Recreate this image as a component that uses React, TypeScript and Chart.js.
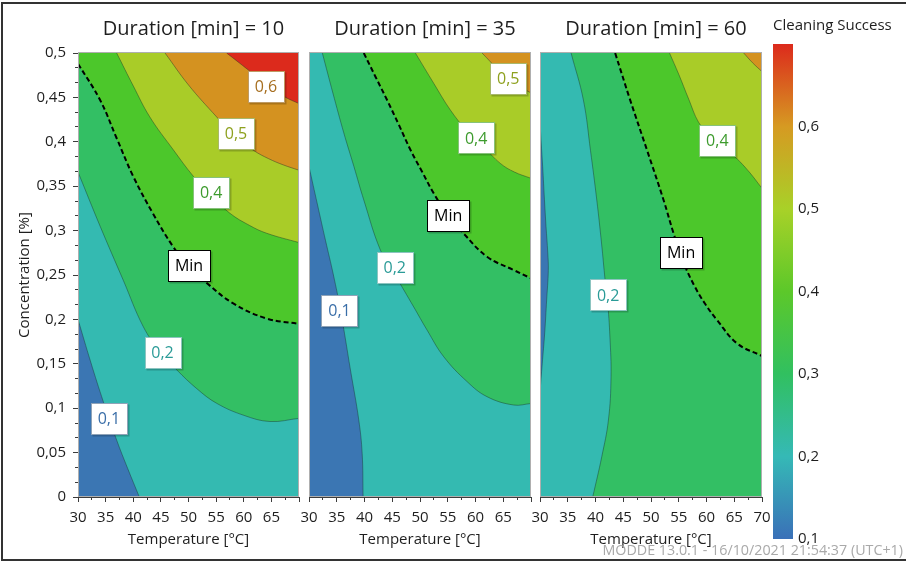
import React, { useEffect, useRef } from 'react';
import { Chart, registerables } from 'chart.js';

Chart.register(...registerables);

type Pt = [number, number];
type LabelItem = [number, number, number];

const FONT = '"Open Sans", "Noto Sans", "DejaVu Sans", sans-serif';
const TEXT = '#1e1e1e';
const AXIS = '#3c3c3c';
const CURVE_TENSION = 0.4;

// ---- axis ranges / ticks ----
const T_MIN = 30;
const T_MAX = 70;
const C_MIN = 0;
const C_MAX = 0.5;
const temperatureStep = 5;
const temperatureMinorStep = 2.5;
const concentrationStep = 0.05;
const concentrationMinorStep = 0.05 / 3;

const durations = [10, 35, 60];
const contourLevels = [0.1, 0.2, 0.3, 0.4, 0.5, 0.6];
const LEVEL_MIN = 0.3; // "Min" specification contour
const bandColors = ['#3B76B3', '#34BAB1', '#33BF64', '#4CC72B', '#A9CC28', '#D49220', '#DC2A1C'];

// colour bar
const colorbarValues = [0.1, 0.2, 0.3, 0.4, 0.5, 0.6, 0.7];
const colorbarColors = ['#3A70B8', '#35B9B6', '#31C060', '#5CC82A', '#A8D128', '#D69A22', '#DC2A1C'];

// ---- Duration = 10 min : contour lines (Temperature, Concentration) ----
const d10Contour01: Pt[] = [[30, 0.2], [32.3, 0.152], [34.6, 0.107], [37, 0.064], [39, 0.032], [41.1, 0]];
const d10Contour02: Pt[] = [[30, 0.366], [34, 0.305], [38.2, 0.244], [41.8, 0.192], [44.8, 0.164], [47.9, 0.143], [51.5, 0.122], [55.1, 0.1055], [60, 0.092], [64.75, 0.085], [70, 0.0886]];
const d10ContourMin: Pt[] = [[30, 0.488], [34, 0.447], [37, 0.404], [40, 0.361], [43.5, 0.32], [47.2, 0.282], [50, 0.26], [53.3, 0.241], [58.1, 0.218], [64.15, 0.201], [70, 0.195]];
const d10Contour04: Pt[] = [[37, 0.5], [40, 0.463], [43, 0.428], [47.25, 0.391], [50.9, 0.361], [54, 0.34], [57.5, 0.3195], [61, 0.306], [64.15, 0.297], [70, 0.2865]];
const d10Contour05: Pt[] = [[45.75, 0.5], [50, 0.464], [55.1, 0.428], [58.6, 0.405], [61.85, 0.39], [64.5, 0.381], [67.15, 0.374], [70, 0.368]];
const d10Contour06: Pt[] = [[56.9, 0.5], [60.8, 0.481], [64, 0.465], [67.3, 0.451], [70, 0.443]];
const d10Labels: LabelItem[] = [[35.6, 0.088, 0.1], [45.3, 0.163, 0.2], [50.1, 0.261, 0.3], [54.1, 0.343, 0.4], [58.6, 0.409, 0.5], [64, 0.4628, 0.6]];

// ---- Duration = 35 min ----
const d35Contour01: Pt[] = [[30, 0.372], [31.5, 0.33], [32.97, 0.289], [34.4, 0.25], [35.67, 0.2106], [37.47, 0.143], [38.97, 0.0867], [39.58, 0.049], [39.75, 0]];
const d35Contour02: Pt[] = [[32.4, 0.5], [34.3, 0.455], [36.27, 0.41], [38.1, 0.372], [39.87, 0.3345], [42.87, 0.278], [45.5, 0.25], [48.87, 0.214], [51.27, 0.188], [54.27, 0.158], [58.47, 0.13], [62.07, 0.113], [66.87, 0.1036], [70, 0.1053]];
const d35ContourMin: Pt[] = [[39.87, 0.5], [42, 0.473], [44.07, 0.447], [46.2, 0.419], [48.27, 0.391], [50.4, 0.366], [52.47, 0.342], [55.08, 0.3168], [57.87, 0.2966], [62.07, 0.2706], [66.87, 0.2556], [70, 0.2463]];
const d35Contour04: Pt[] = [[49.17, 0.5], [52.47, 0.4659], [55.47, 0.4358], [58.5, 0.412], [61.5, 0.394], [64.47, 0.3757], [67, 0.366], [70, 0.3589]];
const d35Contour05: Pt[] = [[61.18, 0.5], [64, 0.482], [67, 0.466], [70, 0.455]];
const d35Labels: LabelItem[] = [[35.49, 0.2097, 0.1], [45.45, 0.258, 0.2], [55.08, 0.3168, 0.3], [60.12, 0.4043, 0.4], [65.9, 0.4718, 0.5]];

// ---- Duration = 60 min ----
const d60Contour01: Pt[] = [[30, 0.4226], [30.2, 0.4], [30.48, 0.372], [30.8, 0.335], [31.08, 0.305], [31.4, 0.275], [31.5, 0.255], [31.2, 0.222], [30.85, 0.185], [30.4, 0.15], [30, 0.1186]];
const d60Contour02: Pt[] = [[35.6, 0.5], [37.82, 0.447], [39.1, 0.39], [40.23, 0.3345], [41.1, 0.285], [41.73, 0.2444], [42.15, 0.222], [42.6, 0.18], [42.8, 0.135], [42.33, 0.0867], [41.13, 0.0454], [39.5, 0]];
const d60ContourMin: Pt[] = [[43.54, 0.5], [46.25, 0.447], [49.26, 0.391], [52.26, 0.3345], [54.06, 0.297], [55.8, 0.265], [57.8, 0.238], [59.8, 0.217], [61.89, 0.1993], [65.5, 0.173], [70, 0.1588]];
const d60Contour04: Pt[] = [[53.34, 0.5], [55, 0.476], [56.8, 0.448], [58.57, 0.422], [60.3, 0.41], [61.95, 0.4], [63.6, 0.392], [65.33, 0.382], [67.7, 0.366], [70, 0.3476]];
const d60Contour05: Pt[] = [[66.7, 0.5], [68.3, 0.489], [70, 0.479]];
const d60Labels: LabelItem[] = [[42.27, 0.2275, 0.2], [55.42, 0.2753, 0.3], [61.95, 0.4011, 0.4]];

type Contour = { level: number; pts: Pt[] };
type PanelSpec = { duration: number; contours: Contour[]; labels: LabelItem[] };

const PANELS: PanelSpec[] = [
  {
    duration: durations[0],
    contours: [
      { level: 0.1, pts: d10Contour01 }, { level: 0.2, pts: d10Contour02 }, { level: 0.3, pts: d10ContourMin },
      { level: 0.4, pts: d10Contour04 }, { level: 0.5, pts: d10Contour05 }, { level: 0.6, pts: d10Contour06 },
    ],
    labels: d10Labels,
  },
  {
    duration: durations[1],
    contours: [
      { level: 0.1, pts: d35Contour01 }, { level: 0.2, pts: d35Contour02 }, { level: 0.3, pts: d35ContourMin },
      { level: 0.4, pts: d35Contour04 }, { level: 0.5, pts: d35Contour05 },
    ],
    labels: d35Labels,
  },
  {
    duration: durations[2],
    contours: [
      { level: 0.1, pts: d60Contour01 }, { level: 0.2, pts: d60Contour02 }, { level: 0.3, pts: d60ContourMin },
      { level: 0.4, pts: d60Contour04 }, { level: 0.5, pts: d60Contour05 },
    ],
    labels: d60Labels,
  },
];

// layout of each panel canvas (chart areas: 78-299, 309-531, 540-762)
const PANEL_BOXES = [
  { left: 0, width: 310, padL: 0, padR: 11 },
  { left: 289, width: 254, padL: 20, padR: 12 },
  { left: 520, width: 262, padL: 20, padR: 20 },
];

const LABEL_STYLES: Record<string, { text: string; border: string }> = {
  '0.1': { text: '#3A6EA8', border: '#8FA3B8' },
  '0.2': { text: '#2A9B97', border: '#8CC4C0' },
  '0.3': { text: '#000000', border: '#000000' },
  '0.4': { text: '#3D9B2D', border: '#86C27A' },
  '0.5': { text: '#8EA11F', border: '#A8B86A' },
  '0.6': { text: '#A66E1F', border: '#BE9A64' },
};

function fmt(v: number): string {
  return String(Math.round(v * 100) / 100).replace('.', ',');
}

const CORNERS: Pt[] = [[T_MIN, C_MIN], [T_MAX, C_MIN], [T_MAX, C_MAX], [T_MIN, C_MAX]];

function edgeParam([t, c]: Pt): number {
  const eps = 1e-6;
  if (Math.abs(t - T_MIN) < eps) return 3 + (C_MAX - c) / (C_MAX - C_MIN);
  if (Math.abs(t - T_MAX) < eps) return 1 + (c - C_MIN) / (C_MAX - C_MIN);
  if (Math.abs(c - C_MAX) < eps) return 2 + (T_MAX - t) / (T_MAX - T_MIN);
  return (t - T_MIN) / (T_MAX - T_MIN);
}

// polygon of the region above a contour level (closed along the plot boundary).
// The end point is repeated so the curve tangent there matches the contour line.
function closeHigh(pts: Pt[]): Pt[] {
  const end = pts[pts.length - 1];
  const se = edgeParam(end);
  let ss = edgeParam(pts[0]);
  if (ss <= se) ss += 4;
  const out = pts.slice();
  out.push(end);
  for (let k = Math.floor(se) + 1; k < ss; k++) out.push(CORNERS[k % 4]);
  return out;
}

const toXY = (pts: Pt[]) => pts.map(([x, y]) => ({ x, y }));

function panelDatasets(contours: Contour[]) {
  const strokes = contours.map((ct) => {
    const isMin = ct.level === LEVEL_MIN;
    return {
      data: toXY(ct.pts),
      borderColor: isMin ? '#000000' : 'rgba(25,45,40,0.42)',
      borderWidth: isMin ? 2 : 1,
      borderDash: isMin ? [5, 3] : [],
      fill: false,
      pointRadius: 0,
      tension: CURVE_TENSION,
      xAxisID: 'x',
      yAxisID: 'y',
    };
  });
  const fills = contours
    .slice()
    .reverse()
    .map((ct) => ({
      data: toXY(closeHigh(ct.pts)),
      backgroundColor: bandColors[contourLevels.indexOf(ct.level) + 1],
      borderColor: 'rgba(0,0,0,0)',
      borderWidth: 0,
      fill: 'shape',
      pointRadius: 0,
      tension: CURVE_TENSION,
      xAxisID: 'x',
      yAxisID: 'y',
    }));
  const base = {
    data: toXY(CORNERS),
    backgroundColor: bandColors[0],
    borderColor: 'rgba(0,0,0,0)',
    borderWidth: 0,
    fill: 'shape',
    pointRadius: 0,
    tension: 0,
    xAxisID: 'x',
    yAxisID: 'y',
  };
  return [...strokes, ...fills, base];
}

const panelDecor = {
  id: 'panelDecor',
  afterDatasetsDraw(chart: any, _args: any, opts: any) {
    const { ctx, chartArea: a, scales } = chart;
    ctx.save();
    // plot frame
    ctx.strokeStyle = 'rgba(175,175,175,1)';
    ctx.lineWidth = 1;
    ctx.strokeRect(Math.round(a.left) + 0.5, Math.round(a.top) - 0.5, Math.round(a.right - a.left) - 1, Math.round(a.bottom - a.top));
    // contour labels
    const xs = scales.x;
    const ys = scales.y;
    ctx.font = `16px ${FONT}`;
    for (const [t, c, level] of opts.labels as LabelItem[]) {
      const px = xs.getPixelForValue(t);
      const py = ys.getPixelForValue(c);
      const text = level === LEVEL_MIN ? 'Min' : fmt(level);
      const st = LABEL_STYLES[String(level)];
      const w = Math.round(ctx.measureText(text).width + 14);
      const h = 31;
      const bx = Math.round(px - w / 2) + 0.5;
      const by = Math.round(py - h / 2) + 0.5;
      ctx.fillStyle = 'rgba(0,0,0,0.2)';
      ctx.fillRect(bx + 1, by + 1, w + 1, h + 1);
      ctx.fillStyle = '#ffffff';
      ctx.fillRect(bx, by, w, h);
      ctx.strokeStyle = st.border;
      ctx.strokeRect(bx, by, w, h);
      ctx.fillStyle = st.text;
      ctx.textAlign = 'center';
      ctx.textBaseline = 'middle';
      ctx.fillText(text, px, py + 1);
    }
    ctx.restore();
  },
  afterDraw(chart: any, _args: any, opts: any) {
    const { ctx, chartArea: a } = chart;
    ctx.save();
    ctx.font = `20px ${FONT}`;
    ctx.fillStyle = TEXT;
    ctx.textAlign = 'center';
    ctx.textBaseline = 'middle';
    ctx.fillText(opts.title, (a.left + a.right) / 2 + 5, 29);
    ctx.restore();
  },
};

const colorbarTitle = {
  id: 'colorbarTitle',
  afterDraw(chart: any, _args: any, opts: any) {
    const { ctx, chartArea: a } = chart;
    ctx.save();
    ctx.font = `15px ${FONT}`;
    ctx.fillStyle = TEXT;
    ctx.textAlign = 'left';
    ctx.textBaseline = 'middle';
    ctx.fillText(opts.text, a.left, 26);
    ctx.restore();
  },
};

function panelConfig(panel: PanelSpec, idx: number): any {
  const box = PANEL_BOXES[idx];
  const first = idx === 0;
  const last = idx === PANELS.length - 1;
  const tickFont = { family: FONT, size: 15 };
  return {
    type: 'line',
    data: { datasets: panelDatasets(panel.contours) },
    options: {
      animation: false,
      responsive: false,
      devicePixelRatio: 1,
      events: [],
      layout: { padding: { left: box.padL, right: box.padR, top: 53, bottom: 0 } },
      elements: { point: { radius: 0, hitRadius: 0 }, line: { capBezierPoints: true } },
      plugins: {
        legend: { display: false },
        tooltip: { enabled: false },
        title: { display: false },
        panelDecor: { title: `Duration [min] = ${panel.duration}`, labels: panel.labels },
      },
      scales: {
        x: {
          type: 'linear',
          position: 'bottom',
          min: T_MIN,
          max: T_MAX,
          weight: 1,
          z: 1,
          ticks: {
            stepSize: temperatureStep,
            autoSkip: false,
            maxRotation: 0,
            padding: 7,
            color: TEXT,
            font: tickFont,
            callback: (v: number) => (!last && v === T_MAX ? '' : String(v)),
          },
          grid: { drawOnChartArea: false, drawTicks: true, tickLength: 5, color: AXIS, tickColor: AXIS },
          border: { display: true, color: AXIS, width: 1 },
          title: { display: true, text: 'Temperature [°C]', color: TEXT, font: tickFont, padding: { top: 0, bottom: 13 } },
          afterFit: (s: any) => {
            s.height = 65;
          },
        },
        xMinor: {
          type: 'linear',
          position: 'bottom',
          min: T_MIN,
          max: T_MAX,
          weight: 0,
          z: 1,
          ticks: { display: false, stepSize: temperatureMinorStep, autoSkip: false },
          grid: { drawOnChartArea: false, drawTicks: true, tickLength: 3, color: AXIS, tickColor: AXIS },
          border: { display: false },
          afterFit: (s: any) => {
            s.height = 0;
          },
        },
        y: {
          type: 'linear',
          position: 'left',
          min: C_MIN,
          max: C_MAX,
          weight: 1,
          z: 1,
          display: first,
          ticks: {
            stepSize: concentrationStep,
            autoSkip: false,
            padding: 7,
            color: TEXT,
            font: tickFont,
            callback: (v: number) => fmt(v),
          },
          grid: { drawOnChartArea: false, drawTicks: true, tickLength: 5, color: AXIS, tickColor: AXIS },
          border: { display: true, color: AXIS, width: 1 },
          title: { display: true, text: 'Concentration [%]', color: TEXT, font: tickFont, padding: { top: 16, bottom: 0 } },
          afterFit: first
            ? (s: any) => {
                s.width = 78 - box.padL;
              }
            : undefined,
        },
        yMinor: {
          type: 'linear',
          position: 'left',
          min: C_MIN,
          max: C_MAX,
          weight: 0,
          z: 1,
          display: first,
          ticks: { display: false, stepSize: concentrationMinorStep, autoSkip: false },
          grid: { drawOnChartArea: false, drawTicks: true, tickLength: 3, color: AXIS, tickColor: AXIS },
          border: { display: false },
          afterFit: (s: any) => {
            s.width = 0;
          },
        },
      },
    },
    plugins: [panelDecor],
  };
}

function colorbarConfig(): any {
  const lo = colorbarValues[0];
  const hi = colorbarValues[colorbarValues.length - 1];
  return {
    type: 'bar',
    data: {
      labels: ['Cleaning Success'],
      datasets: [
        {
          data: [[lo, hi]],
          backgroundColor: (c: any) => {
            const chart = c.chart;
            const ys = chart.scales && chart.scales.y;
            if (!chart.chartArea || !ys) return colorbarColors[0];
            const p0 = ys.getPixelForValue(lo);
            const p1 = ys.getPixelForValue(hi);
            if (!isFinite(p0) || !isFinite(p1)) return colorbarColors[0];
            const g = chart.ctx.createLinearGradient(0, p0, 0, p1);
            colorbarValues.forEach((v, i) => g.addColorStop((v - lo) / (hi - lo), colorbarColors[i]));
            return g;
          },
          borderWidth: 0,
          barPercentage: 1,
          categoryPercentage: 1,
        },
      ],
    },
    options: {
      animation: false,
      responsive: false,
      devicePixelRatio: 1,
      events: [],
      layout: { padding: { left: 13, right: 0, top: 44, bottom: 23 } },
      plugins: {
        legend: { display: false },
        tooltip: { enabled: false },
        title: { display: false },
        colorbarTitle: { text: 'Cleaning Success' },
      },
      scales: {
        x: { display: false },
        y: {
          position: 'right',
          min: lo,
          max: hi,
          ticks: {
            stepSize: 0.1,
            padding: 5,
            color: TEXT,
            font: { family: FONT, size: 15 },
            callback: (v: number) => (v >= hi - 1e-9 ? '' : fmt(v)),
          },
          grid: { display: false, drawTicks: false },
          border: { display: false },
          afterFit: (s: any) => {
            s.width = 113;
          },
        },
      },
    },
    plugins: [colorbarTitle],
  };
}

export default function App() {
  const r0 = useRef<HTMLCanvasElement>(null);
  const r1 = useRef<HTMLCanvasElement>(null);
  const r2 = useRef<HTMLCanvasElement>(null);
  const rc = useRef<HTMLCanvasElement>(null);

  useEffect(() => {
    Chart.defaults.font.family = FONT;
    const refs = [r0, r1, r2];
    const charts: Chart[] = [];
    PANELS.forEach((p, i) => {
      const cv = refs[i].current;
      if (cv) charts.push(new Chart(cv, panelConfig(p, i)));
    });
    if (rc.current) charts.push(new Chart(rc.current, colorbarConfig()));
    return () => charts.forEach((c) => c.destroy());
  }, []);

  const refs = [r0, r1, r2];
  return (
    <div style={{ position: 'absolute', left: 0, top: 0, width: 906, height: 562, background: '#ffffff', overflow: 'hidden' }}>
      <div
        style={{
          position: 'absolute',
          left: 1,
          top: 2,
          width: 930,
          height: 559,
          border: '2px solid #333333',
          boxSizing: 'border-box',
        }}
      />
      {PANEL_BOXES.map((b, i) => (
        <canvas
          key={i}
          ref={refs[i]}
          width={b.width}
          height={562}
          style={{ position: 'absolute', left: b.left, top: 0, width: b.width, height: 562 }}
        />
      ))}
      <canvas ref={rc} width={146} height={562} style={{ position: 'absolute', left: 760, top: 0, width: 146, height: 562 }} />
      <div
        style={{
          position: 'absolute',
          right: 3,
          top: 541,
          fontFamily: FONT,
          fontSize: 14.3,
          lineHeight: '18px',
          color: '#a9a9a9',
          whiteSpace: 'nowrap',
        }}
      >
        MODDE 13.0.1 - 16/10/2021 21:54:37 (UTC+1)
      </div>
    </div>
  );
}
